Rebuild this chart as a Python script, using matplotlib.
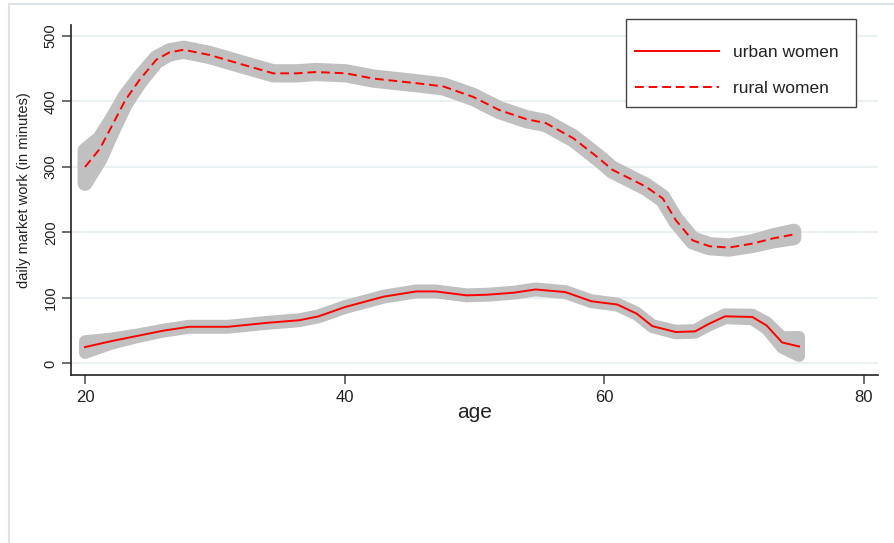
import numpy as np
import matplotlib
matplotlib.use("Agg")
import matplotlib.pyplot as plt
from matplotlib.patches import Rectangle, Polygon

plt.rcParams["font.family"] = ["Liberation Sans", "DejaVu Sans"]

# urban women : lissage local (lecture du graphique)
urban_age = [20, 22, 24, 26, 28, 31, 34, 36.5, 38, 40, 43, 45.5, 47, 49.4,
             51, 53, 54.7, 57, 59, 61, 62.5, 63.7, 65.5, 67, 68, 69.3,
             71.4, 72.5, 73.7, 75]
urban_val = [25, 34, 42, 50, 56, 56, 62, 66, 72, 86, 102, 110, 110, 104,
             105, 108, 113, 109, 95, 90, 76, 57, 48, 49, 60, 72,
             71, 58, 32, 26]
# demi-largeur de l'intervalle de confiance (minutes)
urban_ci = [9, 4, 2, 1.5, 1.5, 1.5, 1.5, 1.5, 1.5, 1.5, 1.5, 1.5, 1.5, 1.5,
            1.5, 1.5, 1.5, 1.5, 1.5, 1.5, 1.5, 1.5, 2, 2, 2.5, 3,
            3.5, 5, 8, 14.5]

# rural women
rural_age = [20, 21.15, 22.05, 23.1, 24.2, 25.5, 26.5, 27.6, 29.6, 32.2,
             34.5, 36.3, 37.8, 40.1, 42.2, 45.5, 47.6, 49.9, 51.9, 54,
             55.5, 57.6, 59.6, 60.6, 63.2, 64.5, 65.5, 66.8, 68.1, 69.6,
             71.4, 73, 74.6]
rural_val = [300, 328, 362, 402, 433, 464, 475, 479, 471, 456,
             443, 443, 445, 443, 435, 428, 423, 407, 387, 373,
             367, 344, 313, 296, 270, 252, 219, 188, 179, 177,
             183, 191, 197]
rural_ci = [25, 16, 10, 6, 4, 3, 2.5, 2.5, 2.5, 2.5,
            2.5, 2.5, 2.5, 2.5, 2.5, 2.5, 2.5, 2.5, 2.5, 2.5,
            2.5, 2.5, 2.5, 2.5, 2.5, 2.5, 2.5, 2.5, 2.5, 2.5,
            3, 4, 5]

x_ticks = [20, 40, 60, 80]
y_ticks = [0, 100, 200, 300, 400, 500]

band = "#c0c0c0"
red = "#ff0000"

fig = plt.figure(figsize=(8.94, 5.43), dpi=100)
ax = fig.add_axes([71 / 894, 1 - 375 / 543, 807 / 894, 350 / 543])

# cadre gris clair autour de la figure (coupé à droite et en bas)
fig.patches.append(Rectangle((9 / 894, -0.1), 2, 1.1 - 4 / 543,
                             transform=fig.transFigure, fill=False,
                             edgecolor="#dde3e6", linewidth=1.5))

# grille horizontale
for yv in y_ticks:
    ax.axhline(yv, color="#eaf1f3", linewidth=1.5, zorder=0)

# bandes de confiance : aire + contour épais arrondi
for age, val, ci, lw in [(urban_age, urban_val, urban_ci, 8.6),
                         (rural_age, rural_val, rural_ci, 10.8)]:
    a = np.array(age)
    v = np.array(val)
    c = np.array(ci)
    xs = np.concatenate([a, a[::-1]])
    ys = np.concatenate([v + c, (v - c)[::-1]])
    poly = Polygon(np.column_stack([xs, ys]), closed=True, facecolor=band,
                   edgecolor=band, linewidth=lw, joinstyle="round", zorder=1)
    ax.add_patch(poly)

l_urban, = ax.plot(urban_age, urban_val, color=red, linewidth=1.4,
                   zorder=3, label="urban women")
l_rural, = ax.plot(rural_age, rural_val, color=red, linewidth=1.4,
                   linestyle=(0, (4.5, 2.5)), zorder=3, label="rural women")

ax.set_xlim(18.92, 81.08)
ax.set_ylim(-17.6, 516.8)
ax.set_xticks(x_ticks)
ax.set_yticks(y_ticks)

for s in ["top", "right"]:
    ax.spines[s].set_visible(False)
for s in ["left", "bottom"]:
    ax.spines[s].set_color("#222222")
    ax.spines[s].set_linewidth(1.2)

ax.tick_params(axis="both", direction="out", length=6.5, width=1.2,
               color="#555555", labelcolor="#222222")
ax.tick_params(axis="x", labelsize=12, pad=4.5)
ax.tick_params(axis="y", labelsize=10.5, pad=3)
plt.setp(ax.get_yticklabels(), rotation=90, va="center")

ax.set_xlabel("age", fontsize=15, color="#222222")
ax.xaxis.label.set_va("center")
ax.xaxis.set_label_coords(0.5, -0.106)
ax.set_ylabel("daily market work (in minutes)", fontsize=10.5, color="#222222")
ax.yaxis.label.set_va("center")
ax.yaxis.set_label_coords(-0.058, 0.529)

# légende : cadre dessiné à part pour placer les marges comme l'original
frame = Rectangle((626 / 894, 1 - 107 / 543), 230 / 894, 88 / 543,
                  transform=fig.transFigure, facecolor="white",
                  edgecolor="#444444", linewidth=1.0, zorder=5,
                  clip_on=False)
ax.add_patch(frame)
leg = ax.legend(handles=[l_urban, l_rural], loc="upper left",
                bbox_to_anchor=(635 / 894, 1 - 45 / 543),
                bbox_transform=fig.transFigure, fontsize=12.5,
                handlelength=4.83, labelspacing=1.21, borderpad=0,
                handletextpad=0.8, borderaxespad=0, frameon=False)
leg.set_zorder(6)
for t in leg.get_texts():
    t.set_color("#222222")

fig.savefig("out.png", dpi=100)
